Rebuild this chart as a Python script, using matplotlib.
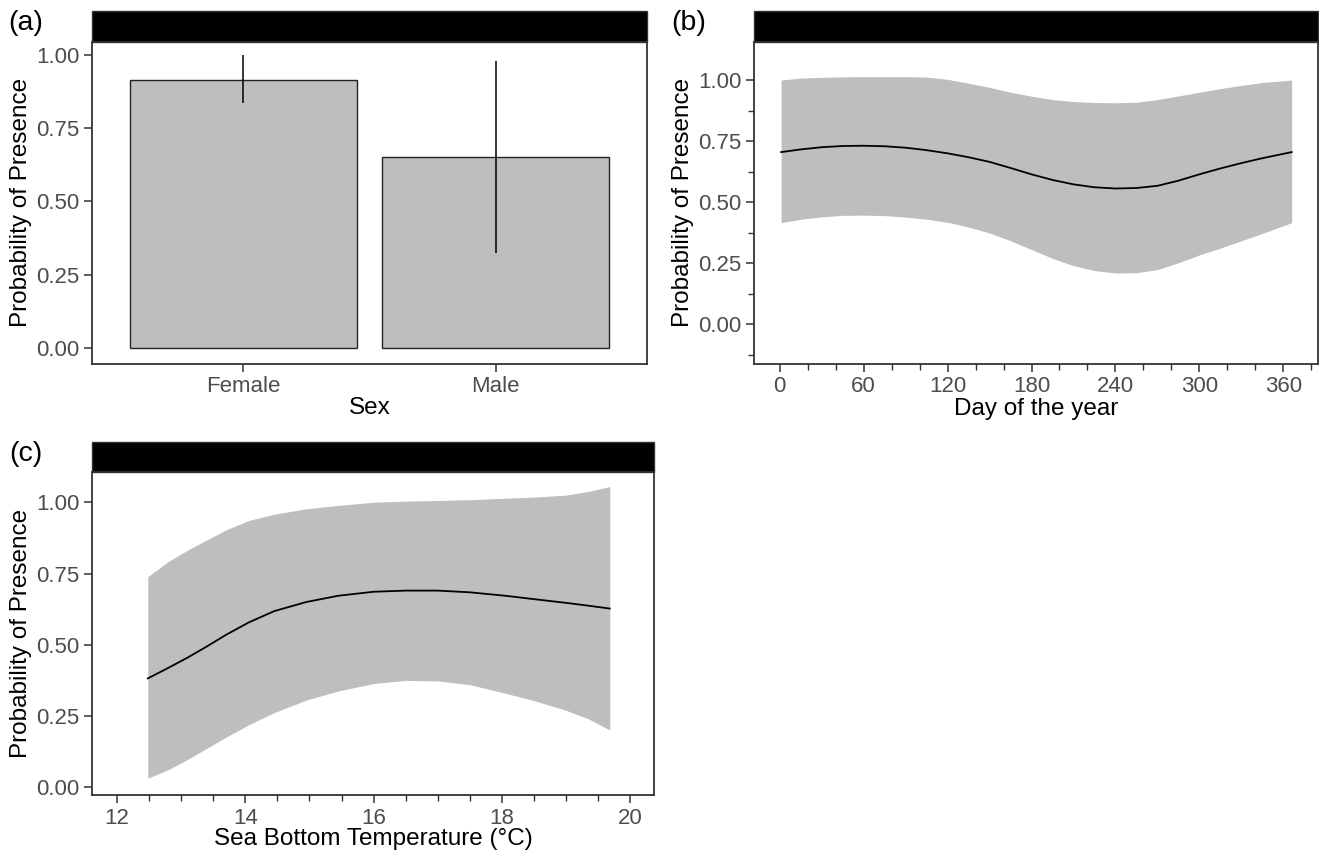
import numpy as np
import matplotlib
matplotlib.use("Agg")
import matplotlib.pyplot as plt
from matplotlib.patches import Rectangle

plt.rcParams['font.family'] = ['Liberation Sans', 'DejaVu Sans']

# (a) sex
sex = ['Female', 'Male']
sex_prob = [0.913, 0.652]
sex_lo = [0.834, 0.325]
sex_hi = [1.0, 0.979]

# (b) day of the year
day = [1, 15, 30, 45, 60, 75, 90, 105, 120, 135, 150, 165, 180, 195, 210, 225,
       240, 255, 270, 285, 300, 315, 330, 345, 366]
day_fit = [0.705, 0.716, 0.725, 0.730, 0.731, 0.729, 0.723, 0.713, 0.700, 0.684,
           0.665, 0.640, 0.614, 0.591, 0.573, 0.561, 0.556, 0.558, 0.567, 0.588,
           0.614, 0.638, 0.660, 0.680, 0.705]
day_lo = [0.416, 0.430, 0.440, 0.446, 0.447, 0.445, 0.439, 0.430, 0.418, 0.398,
          0.374, 0.342, 0.306, 0.270, 0.240, 0.220, 0.210, 0.211, 0.224, 0.252,
          0.284, 0.312, 0.342, 0.372, 0.416]
day_hi = [1.000, 1.008, 1.011, 1.013, 1.014, 1.014, 1.014, 1.012, 1.003, 0.987,
          0.970, 0.950, 0.934, 0.920, 0.912, 0.908, 0.907, 0.909, 0.920, 0.935,
          0.950, 0.965, 0.978, 0.990, 1.000]

# (c) sea bottom temperature
sbt = [12.48, 12.8, 13.1, 13.4, 13.7, 14.05, 14.45, 14.95, 15.45, 16.0, 16.5,
       17.0, 17.5, 18.05, 18.5, 19.0, 19.35, 19.68]
sbt_fit = [0.382, 0.419, 0.455, 0.494, 0.535, 0.578, 0.618, 0.650, 0.672, 0.686,
           0.690, 0.690, 0.684, 0.672, 0.660, 0.647, 0.637, 0.627]
sbt_lo = [0.032, 0.062, 0.098, 0.137, 0.176, 0.219, 0.262, 0.306, 0.338, 0.364,
          0.375, 0.373, 0.360, 0.330, 0.304, 0.270, 0.240, 0.201]
sbt_hi = [0.739, 0.792, 0.832, 0.868, 0.903, 0.936, 0.958, 0.977, 0.989, 1.000,
          1.004, 1.006, 1.009, 1.014, 1.018, 1.025, 1.038, 1.055]

W, H = 1319, 856
fig = plt.figure(figsize=(W / 100, H / 100), dpi=100)

FILL = '#bebebe'
BORDER = '#333333'
TICKC = '#4d4d4d'


def make_ax(l, r, top, bot, strip_top):
    ax = fig.add_axes([l / W, 1 - bot / H, (r - l) / W, (bot - top) / H])
    for s in ax.spines.values():
        s.set_color(BORDER)
        s.set_linewidth(1.3)
    ax.tick_params(direction='out', length=6, width=1.1, color=BORDER,
                   labelcolor=TICKC, labelsize=16, pad=3)
    ax.tick_params(which='minor', direction='out', length=4, width=1.0, color=BORDER)
    # black facet strip on top
    h = (top - strip_top) / (bot - top)
    ax.add_patch(Rectangle((0, 1), 1, h, transform=ax.transAxes, clip_on=False,
                           facecolor='black', edgecolor=BORDER, linewidth=1.0))
    ax.set_ylabel('Probability of Presence', fontsize=17.5, labelpad=3)
    return ax


yt = [0, 0.25, 0.5, 0.75, 1.0]
ytl = ['0.00', '0.25', '0.50', '0.75', '1.00']

# panel a
ax = make_ax(92, 647, 41.7, 364, 11)
x = np.arange(1, len(sex) + 1)
ax.bar(x, sex_prob, width=0.9, color=FILL, edgecolor='#222222', linewidth=1.0, zorder=2)
ax.vlines(x, sex_lo, sex_hi, color='black', linewidth=1.1, zorder=3)
ax.set_xticks(x)
ax.set_xticklabels(sex)
ax.set_xlim(0.4, 2.6)
ax.set_ylim(-0.054, 1.044)
ax.set_yticks(yt)
ax.set_yticklabels(ytl)
ax.set_xlabel('Sex', fontsize=17.5, labelpad=0)

# panel b
ax = make_ax(754, 1317.7, 41.7, 364, 11)
ax.fill_between(day, day_lo, day_hi, color=FILL, linewidth=0)
ax.plot(day, day_fit, color='black', linewidth=1.3)
ax.set_xlim(-18.4, 384.6)
ax.set_ylim(-0.1625, 1.157)
ax.set_xticks(np.arange(0, 361, 60))
ax.set_xticks(np.arange(0, 381, 20), minor=True)
ax.set_yticks(yt)
ax.set_yticklabels(ytl)
ax.set_yticks(np.arange(-0.125, 0.9, 0.25), minor=True)
ax.set_xlabel('Day of the year', fontsize=17.5, labelpad=0)

# panel c
ax = make_ax(92, 654, 472.3, 795, 442.3)
ax.fill_between(sbt, sbt_lo, sbt_hi, color=FILL, linewidth=0)
ax.plot(sbt, sbt_fit, color='black', linewidth=1.3)
ax.set_xlim(11.61, 20.37)
ax.set_ylim(-0.027, 1.105)
ax.set_xticks([12, 14, 16, 18, 20])
ax.set_xticks(np.arange(12, 20.01, 0.5), minor=True)
ax.set_yticks(yt)
ax.set_yticklabels(ytl)
ax.set_xlabel('Sea Bottom Temperature (°C)', fontsize=17.5, labelpad=0)

for lab, px, py in [('(a)', 8, 10), ('(b)', 671, 10), ('(c)', 9, 441)]:
    fig.text(px / W, 1 - py / H, lab, fontsize=20.5, va='top', ha='left')

fig.savefig('out.png', dpi=100)
